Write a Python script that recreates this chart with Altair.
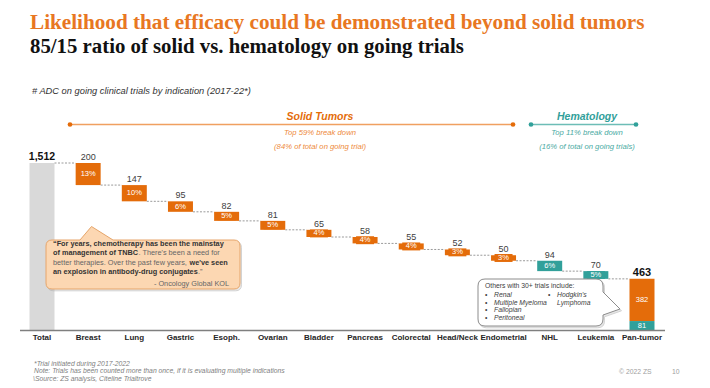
import altair as alt
import pandas as pd

# ---------------- data ----------------
categories = ["Total", "Breast", "Lung", "Gastric", "Esoph.", "Ovarian", "Bladder",
              "Pancreas", "Colorectal", "Head/Neck", "Endometrial", "NHL", "Leukemia", "Pan-tumor"]
trials = [1512, 200, 147, 95, 82, 81, 65, 58, 55, 52, 50, 94, 70, 463]
pct_labels = ["", "13%", "10%", "6%", "5%", "5%", "4%", "4%", "4%", "3%", "3%", "6%", "5%", ""]
group = ["total"] + ["solid"] * 10 + ["heme"] * 2 + ["pan"]
pan_solid = 382
pan_heme = 81

ORANGE = "#E46C0A"
TEAL = "#31A09A"
GREY = "#D9D9D9"
SANS = "Liberation Sans"
SERIF = "Liberation Serif"

STEP = 600 / 13.0           # pixels per category
HW = 12.5 / STEP            # half bar width in category units
BOXW = 9 / STEP             # half label box width

# bars
bars = []
running = trials[0]
bars.append(dict(i=0, lo=0, hi=trials[0], col=GREY))
for k in range(1, 13):
    hi = running
    lo = running - trials[k]
    running = lo
    bars.append(dict(i=k, lo=lo, hi=hi, col=ORANGE if group[k] == "solid" else TEAL))
bars.append(dict(i=13, lo=0, hi=pan_heme, col=TEAL))
bars.append(dict(i=13, lo=pan_heme, hi=pan_heme + pan_solid, col=ORANGE))
bars_df = pd.DataFrame(bars)
bars_df["xl"] = bars_df["i"] - HW
bars_df["xr"] = bars_df["i"] + HW

# connectors
conn = []
levels = [trials[0]] + [b["lo"] for b in bars[1:13]]
for k in range(13):
    conn.append(dict(xl=k + HW, xr=k + 1 - HW, lev=levels[k]))
conn_df = pd.DataFrame(conn)

# value labels
val_rows = []
for k in range(1, 13):
    val_rows.append(dict(i=k, top=bars[k]["hi"], t=str(trials[k])))
val_df = pd.DataFrame(val_rows)

# pct labels
pct_rows = []
for k in range(1, 13):
    mid = (bars[k]["lo"] + bars[k]["hi"]) / 2
    pct_rows.append(dict(i=k, mid=mid, t=pct_labels[k], col=bars[k]["col"],
                         bl=mid - 36, bh=mid + 36, xl=k - BOXW, xr=k + BOXW))
pct_rows.append(dict(i=13, mid=pan_heme / 2, t=str(pan_heme), col=TEAL,
                     bl=pan_heme / 2, bh=pan_heme / 2, xl=13.0, xr=13.0))
pct_rows.append(dict(i=13, mid=pan_heme + pan_solid / 2, t=str(pan_solid), col=ORANGE,
                     bl=pan_heme / 2, bh=pan_heme / 2, xl=13.0, xr=13.0))
pct_df = pd.DataFrame(pct_rows)

cat_df = pd.DataFrame({"i": list(range(len(categories))), "t": categories})

xs = alt.Scale(domain=[0, 13], range=[34, 634])
ys = alt.Scale(domain=[0, 1512], range=[322, 155])


def X(f):
    return alt.X(f, scale=xs, axis=None)


def Y(f):
    return alt.Y(f, scale=ys, axis=None)


layers = []


def txt(s, x, y, size=8, color="#404040", weight="normal", style="normal",
        align="left", font=SANS):
    return alt.Chart(alt.Data(values=[{"a": 1}])).mark_text(
        text=s, fontSize=size, color=color, fontWeight=weight, fontStyle=style,
        align=align, baseline="middle", font=font
    ).encode(x=alt.value(x - 8), y=alt.value(y - 8))


def shape(path, fill, stroke, dx=0, dy=0, opacity=1.0, sw=1.0):
    return alt.Chart(alt.Data(values=[{"a": 1}])).mark_point(
        shape=path, size=4, filled=True, fill=fill, stroke=stroke,
        strokeWidth=sw, opacity=opacity, fillOpacity=opacity
    ).encode(x=alt.value(dx), y=alt.value(dy))


def hline(x1, x2, y, color, w=1.2):
    return alt.Chart(alt.Data(values=[{"a": 1}])).mark_rule(
        color=color, strokeWidth=w
    ).encode(x=alt.value(x1 - 8), x2=alt.value(x2 - 8), y=alt.value(y - 8))


def dot(x, y, color):
    return alt.Chart(alt.Data(values=[{"a": 1}])).mark_circle(
        color=color, size=22, opacity=1
    ).encode(x=alt.value(x - 8), y=alt.value(y - 8))


# bars
layers.append(alt.Chart(bars_df).mark_bar().encode(
    x=X("xl:Q"), x2="xr:Q", y=Y("lo:Q"), y2="hi:Q",
    color=alt.Color("col:N", scale=None)))

# connectors
layers.append(alt.Chart(conn_df).mark_rule(color="#9A9A9A", strokeWidth=1,
                                           strokeDash=[2, 1.5]).encode(
    x=X("xl:Q"), x2="xr:Q", y=Y("lev:Q")))

# axis line
layers.append(hline(20, 665, 330.5, "#7F7F7F", 1.5))

# label boxes for thin bars
layers.append(alt.Chart(pct_df[pct_df["i"] < 13]).mark_bar().encode(
    x=X("xl:Q"), x2="xr:Q", y=Y("bl:Q"), y2="bh:Q",
    color=alt.Color("col:N", scale=None)))

# pct labels
layers.append(alt.Chart(pct_df).mark_text(fontSize=7.5, color="white", font=SANS,
                                          baseline="middle").encode(
    x=X("i:Q"), y=Y("mid:Q"), text="t:N"))

# value labels
layers.append(alt.Chart(val_df).mark_text(fontSize=9, color="#404040", font=SANS,
                                          baseline="alphabetic", dy=-3).encode(
    x=X("i:Q"), y=Y("top:Q"), text="t:N"))
layers.append(alt.Chart(pd.DataFrame({"i": [0], "top": [trials[0]], "t": ["1,512"]})).mark_text(
    fontSize=10.5, color="#111111", font=SANS, fontWeight="bold",
    baseline="alphabetic", dy=-3).encode(x=X("i:Q"), y=Y("top:Q"), text="t:N"))
layers.append(alt.Chart(pd.DataFrame({"i": [13], "top": [trials[13]], "t": ["463"]})).mark_text(
    fontSize=11, color="#111111", font=SANS, fontWeight="bold",
    baseline="alphabetic", dy=-3).encode(x=X("i:Q"), y=Y("top:Q"), text="t:N"))

# category labels
layers.append(alt.Chart(cat_df).mark_text(fontSize=8, color="#262626", font=SANS,
                                          fontWeight="bold", baseline="middle").encode(
    x=X("i:Q"), y=alt.value(338 - 8), text="t:N"))

# titles
layers.append(txt("Likelihood that efficacy could be demonstrated beyond solid tumors",
                  30, 23, 21.2, "#E87722", "bold", font=SERIF))
layers.append(txt("85/15 ratio of solid vs. hematology on going trials",
                  30, 47, 20.8, "#111111", "bold", font=SERIF))
layers.append(txt("# ADC on going clinical trials by indication (2017-22*)",
                  32, 91, 9.3, "#333333", style="italic"))

# group headers
layers.append(hline(70, 513, 124.5, "#F0A060", 1.3))
layers.append(dot(70, 124.5, ORANGE))
layers.append(dot(513, 124.5, ORANGE))
layers.append(txt("Solid Tumors", 320, 117, 10.5, ORANGE, "bold", "italic", "center"))
layers.append(txt("Top 59% break down", 320, 133, 7.7, "#EE8A3C", style="italic", align="center"))
layers.append(txt("(84% of total on going trial)", 320, 147, 7.7, "#EE8A3C", style="italic", align="center"))

layers.append(hline(531, 636, 124.5, "#6DBDB6", 1.3))
layers.append(dot(531, 124.5, TEAL))
layers.append(dot(636, 124.5, TEAL))
layers.append(txt("Hematology", 587, 117, 10.5, TEAL, "bold", "italic", "center"))
layers.append(txt("Top 11% break down", 587, 133, 7.7, "#4AAAA3", style="italic", align="center"))
layers.append(txt("(16% of total on going trials)", 587, 147, 7.7, "#4AAAA3", style="italic", align="center"))

# left callout (chart coords)
left_path = ("M44,232 L72,232 L83.5,218.5 L105,232 L226,232 Q232,232 232,238 L232,275 "
             "Q232,281 226,281 L44,281 Q38,281 38,275 L38,238 Q38,232 44,232 Z")
layers.append(shape(left_path, "#B0B0B0", "#B0B0B0", 1.5, 1.8, 0.55))
layers.append(shape(left_path, "#FCD7B2", "#E6A56A"))
DARK = "#333333"
MID = "#666666"
CS = 7.3
layers.append(txt("\u201cFor years, chemotherapy has been the mainstay", 53, 244.3, CS, DARK, "bold"))
layers.append(txt("of management of TNBC", 53, 253.3, CS, DARK, "bold"))
layers.append(txt(". There's been a need for", 138.5, 253.3, CS, MID))
layers.append(txt("better therapies. Over the past few years, ", 53, 262.7, CS, MID))
layers.append(txt("we've seen", 189.5, 262.7, CS, DARK, "bold"))
layers.append(txt("an explosion in antibody-drug conjugates", 53, 271.7, CS, DARK, "bold"))
layers.append(txt(".\u201d", 198, 271.7, CS, MID))
layers.append(txt("- Oncology Global KOL", 229, 284.3, CS, MID, align="right"))

# right callout
right_path = ("M477,271 L588,271 Q595,271 595,278 L595,284 L612,301 L595,307 L595,311 "
              "Q595,318 588,318 L477,318 Q470,318 470,311 L470,278 Q470,271 477,271 Z")
layers.append(shape(right_path, "#B0B0B0", "#B0B0B0", 1.5, 1.8, 0.55))
layers.append(shape(right_path, "#FFFFFF", "#8C8C8C"))
RS = 6.8
layers.append(txt("Others with 30+ trials include:", 485, 286, RS, "#404040"))
for yy, item in zip([295, 302.5, 310, 318], ["Renal", "Multiple Myeloma", "Fallopian", "Peritoneal"]):
    layers.append(txt("\u2022", 485, yy, RS, "#404040"))
    layers.append(txt(item, 494, yy, RS, "#404040", style="italic"))
layers.append(txt("\u2022", 548, 295, RS, "#404040"))
layers.append(txt("Hodgkin's", 557, 295, RS, "#404040", style="italic"))
layers.append(txt("Lymphoma", 557, 302.5, RS, "#404040", style="italic"))

# footnotes
FS = 6.8
FC = "#808080"
layers.append(txt("*Trial initiated during 2017-2022", 34, 363.5, FS, FC, style="italic"))
layers.append(txt(" Note: Trials has been counted more than once, if it is evaluating multiple indications",
                  34, 371, FS, FC, style="italic"))
layers.append(txt("\\Source: ZS analysis,  Citeline Trialtrove", 33, 378.5, FS, FC, style="italic"))
layers.append(txt("\u00a9 2022 ZS", 619, 372, FS, "#A0A0A0"))
layers.append(txt("10", 672, 372, FS, "#A0A0A0"))

chart = alt.layer(*layers).properties(
    width=694, height=380,
    autosize=alt.AutoSizeParams(type="none"),
    padding=0,
    background="white",
).configure_view(stroke=None)

chart.save("out.html", embed_options={"renderer": "svg", "actions": False})
